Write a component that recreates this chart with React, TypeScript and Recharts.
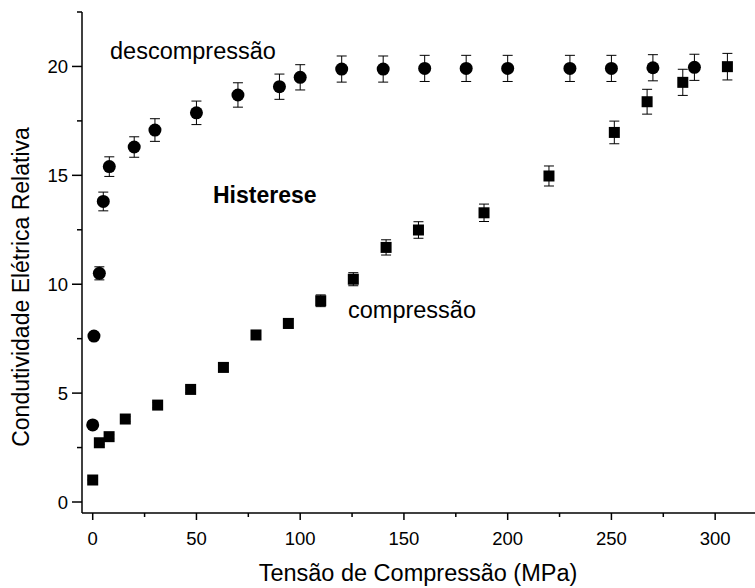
import React from "react";
import { ScatterChart, Scatter, XAxis, YAxis, ErrorBar } from "recharts";

// descompressão (circles)
const decompX = [0, 0.6, 3.2, 5.1, 8, 20, 30, 50, 70, 90, 100, 120, 140, 160, 180, 200, 230, 250, 270, 290];
const decompY = [3.54, 7.62, 10.5, 13.8, 15.4, 16.3, 17.08, 17.87, 18.69, 19.07, 19.5, 19.88, 19.88, 19.91, 19.91, 19.91, 19.91, 19.91, 19.94, 19.96];
const decompErr = [0.1, 0.15, 0.3, 0.43, 0.45, 0.47, 0.52, 0.54, 0.56, 0.58, 0.58, 0.6, 0.6, 0.6, 0.6, 0.6, 0.6, 0.6, 0.6, 0.6];

// compressão (squares)
const compX = [0, 3.2, 7.9, 15.7, 31.3, 47.2, 63, 78.7, 94.3, 109.9, 125.6, 141.4, 157, 188.6, 219.9, 251.4, 267.2, 284.4, 305.9];
const compY = [1.01, 2.72, 3.0, 3.81, 4.45, 5.17, 6.18, 7.67, 8.2, 9.24, 10.23, 11.69, 12.49, 13.28, 14.97, 16.97, 18.38, 19.27, 19.99];
const compErr = [0.03, 0.08, 0.09, 0.11, 0.13, 0.15, 0.18, 0.2, 0.22, 0.27, 0.3, 0.35, 0.38, 0.4, 0.46, 0.52, 0.57, 0.6, 0.61];

const xTicks = [0, 25, 50, 75, 100, 125, 150, 175, 200, 225, 250, 275, 300];
const yTicks = [0, 2.5, 5, 7.5, 10, 12.5, 15, 17.5, 20, 22.5];

const FONT = '"Liberation Sans", Arial, sans-serif';

const decompData = decompX.map((x, i) => ({ x, y: decompY[i], err: decompErr[i] }));
const compData = compX.map((x, i) => ({ x, y: compY[i], err: compErr[i] }));

const isMajor = (v: number, step: number) => Math.abs(v / step - Math.round(v / step)) < 1e-6;

function BottomTick(props: any) {
  const { x, y, payload } = props;
  const v = payload.value;
  const major = isMajor(v, 50);
  return (
    <g>
      <line x1={x} x2={x} y1={y} y2={y + (major ? 7 : 4)} stroke="#000" strokeWidth={1.5} />
      {major && (
        <text x={x} y={y + 31.5} textAnchor="middle" fontSize={18.5} fontFamily={FONT} fill="#000">
          {v}
        </text>
      )}
    </g>
  );
}

function TopTick(props: any) {
  const { x, y } = props;
  return <line x1={x} x2={x} y1={y} y2={y + 3} stroke="#000" strokeWidth={1.5} />;
}

function LeftTick(props: any) {
  const { x, y, payload } = props;
  const v = payload.value;
  const major = isMajor(v, 5);
  return (
    <g>
      <line x1={x} x2={x - (major ? 10 : 5)} y1={y} y2={y} stroke="#000" strokeWidth={1.5} />
      {major && (
        <text x={x - 14} y={y + 6.5} textAnchor="end" fontSize={18.5} fontFamily={FONT} fill="#000">
          {v}
        </text>
      )}
    </g>
  );
}

const Circle = (p: any) => <circle cx={p.cx} cy={p.cy} r={6.5} fill="#000" />;
const Square = (p: any) => <rect x={p.cx - 5.5} y={p.cy - 5.5} width={11} height={11} fill="#000" />;

export default function App() {
  return (
    <div style={{ position: "absolute", left: 0, top: 0, width: 755, height: 588, background: "#fff" }}>
      <ScatterChart width={755} height={588} margin={{ top: 12, right: 0, bottom: 0, left: 0 }}>
        <XAxis
          type="number"
          dataKey="x"
          domain={[-5.16, 319.2]}
          ticks={xTicks}
          interval={0}
          allowDataOverflow
          height={75}
          tickSize={0}
          tickMargin={0}
          tickLine={false}
          tick={<BottomTick />}
          axisLine={{ stroke: "#000", strokeWidth: 1.5 }}
        />
        <XAxis
          xAxisId="top"
          orientation="top"
          type="number"
          domain={[-5.16, 319.2]}
          ticks={xTicks}
          interval={0}
          allowDataOverflow
          height={0}
          tickSize={0}
          tickMargin={0}
          tickLine={false}
          tick={<TopTick />}
          axisLine={{ stroke: "#000", strokeWidth: 1.5 }}
        />
        <YAxis
          type="number"
          dataKey="y"
          domain={[-0.505, 22.5]}
          ticks={yTicks}
          interval={0}
          allowDataOverflow
          width={82}
          tickSize={0}
          tickMargin={0}
          tickLine={false}
          tick={<LeftTick />}
          axisLine={{ stroke: "#000", strokeWidth: 1.5 }}
        />
        <Scatter data={decompData} shape={Circle} isAnimationActive={false}>
          <ErrorBar dataKey="err" direction="y" width={5} stroke="#000" strokeWidth={1} />
        </Scatter>
        <Scatter data={compData} shape={Square} isAnimationActive={false}>
          <ErrorBar dataKey="err" direction="y" width={5} stroke="#000" strokeWidth={1} />
        </Scatter>
      </ScatterChart>
      <svg
        width={755}
        height={588}
        style={{ position: "absolute", left: 0, top: 0, pointerEvents: "none" }}
        fontFamily={FONT}
      >
        <text x={110} y={59} fontSize={23.5} fill="#000">descompressão</text>
        <text x={213} y={203} fontSize={23} fontWeight="bold" fill="#000">Histerese</text>
        <text x={348} y={318} fontSize={23.5} fill="#000">compressão</text>
        <text x={418} y={581} fontSize={23.5} textAnchor="middle" fill="#000">Tensão de Compressão (MPa)</text>
        <text
          x={0}
          y={0}
          fontSize={23}
          textAnchor="middle"
          fill="#000"
          transform="translate(29 287) rotate(-90)"
        >
          Condutividade Elétrica Relativa
        </text>
      </svg>
    </div>
  );
}
